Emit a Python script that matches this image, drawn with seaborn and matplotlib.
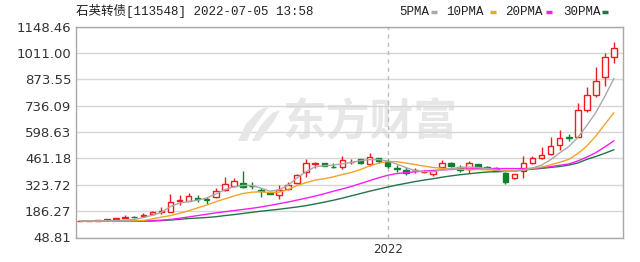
import numpy as np
import pandas as pd
import matplotlib
matplotlib.use("Agg")
import matplotlib.pyplot as plt
import seaborn as sns
from matplotlib.lines import Line2D
from matplotlib.patches import Polygon

# ---------------- data ----------------
title = "石英转债[113548] 2022-07-05 13:58"
watermark = "东方财富"
y_ticks = [48.81, 186.27, 323.72, 461.18, 598.63, 736.09, 873.55, 1011.00, 1148.46]
year_label = "2022"
year_start_index = 34
ma_labels = ["5PMA", "10PMA", "20PMA", "30PMA"]
ma_colors = ["#a9a9a9", "#f0a526", "#f41ef4", "#24744a"]

opens = [133.5, 134.5, 136, 138.5, 146, 153, 158, 163, 170, 184,
         184, 240, 241, 256, 247, 258, 296, 318, 334, 318,
         295, 281, 270, 300, 331, 391, 432, 435, 417, 417,
         441, 456, 431, 461, 443, 411, 400, 398, 389, 378,
         414, 435, 416, 404, 430, 417, 413, 386, 357, 395,
         437, 462, 484, 530, 573, 574, 713, 791, 885, 990]
closes = [134.5, 135.5, 137.5, 143.5, 149, 157, 155, 166, 183, 187,
          235, 244, 265, 252, 243, 292, 326, 343, 310, 315,
          291, 278, 296, 322, 374, 436, 436, 423, 415, 452,
          444, 436, 470, 449, 421, 408, 383, 401, 392, 395,
          435, 421, 400, 435, 416, 412, 395, 340, 379, 435,
          461, 478, 525, 565, 568, 713, 790, 865, 990, 1034]
highs = [135, 136, 139, 145, 153, 164, 161, 176, 186, 206,
         275, 270, 279, 268, 261, 309, 365, 357, 396, 339,
         309, 283, 322, 339, 378, 456, 440, 438, 435, 473,
         456, 458, 487, 464, 456, 426, 414, 409, 400, 397,
         452, 440, 428, 447, 433, 421, 416, 389, 382, 473,
         476, 521, 573, 608, 586, 748, 831, 938, 1011, 1068]
lows = [133, 134, 135, 137, 144, 150, 152, 158, 168, 171,
        181, 218, 238, 236, 223, 254, 292, 310, 306, 304,
        262, 276, 249, 297, 328, 365, 409, 420, 413, 404,
        434, 433, 421, 435, 409, 391, 374, 383, 384, 368,
        404, 418, 390, 386, 413, 405, 393, 330, 352, 358,
        433, 458, 481, 505, 553, 570, 705, 779, 838, 956]

ma5 = [134.7, 134.7, 134.7, 135.8, 137.3, 139, 143, 152, 165, 180,
       210, 228, 236, 243, 255, 275, 298, 313, 320, 320,
       306, 290, 297, 322, 360, 392, 418, 423, 426, 433,
       439.3, 449.7, 454.9, 454.9, 447.1, 431.5, 413.3, 397.7, 391.4, 392.4,
       400.3, 408.1, 413.3, 415.9, 413.3, 408.1, 401.0, 393.0, 394.0, 402.0,
       410.0, 426.0, 454.0, 490.0, 522.0, 569.8, 632.2, 700.2, 785.2, 878.4]
ma10 = [134.7, 134.7, 134.7, 134.7, 134.7, 134.7, 135.8, 137.3, 146, 155,
        163, 175, 188, 203, 218, 235, 250, 265, 278, 285,
        287, 283, 285, 298, 320, 335, 348, 355, 365, 377,
        388, 403, 422, 436, 445, 444, 437, 429, 421, 414,
        409.1, 406.5, 404.4, 402.9, 402.9, 401.3, 399, 398, 398, 400.3,
        409.4, 415.8, 427.9, 440.9, 455.9, 486.0, 525.4, 577.9, 639.0, 698.9]
ma20 = [134.7, 134.7, 134.7, 134.7, 134.7, 134.7, 134.7, 134.7, 136.5, 139,
        143, 149, 156, 163, 170, 177, 183, 189, 195, 201,
        208, 216, 225, 234, 244, 254, 265, 277, 290, 302,
        315, 330, 345, 360, 373, 382, 387, 391, 395, 398,
        401, 403.5, 405, 406.5, 407.5, 408, 408, 408, 408, 408,
        409, 413, 418, 425, 432, 447.5, 467.8, 491, 520.9, 552.9]
ma30 = [133.5, 133.5, 133.5, 133.5, 133.2, 133.0, 133.0, 133.2, 134.7, 137.3,
        139.9, 143.6, 147.7, 150.3, 153.0, 157, 163, 168, 174, 180,
        186, 191, 196, 202, 208, 215, 224, 233, 243, 254,
        266, 278, 290, 301, 312, 322, 331, 340, 348, 355,
        363, 370, 376, 381, 386, 390, 392, 393, 396, 400,
        405, 409, 414, 419, 426, 437, 456, 471, 488, 506]

# ---------------- styling ----------------
sns.set_theme(style="white")
plt.rcParams["font.family"] = ["DejaVu Sans"]

W, H = 640, 262
fig = plt.figure(figsize=(W / 100, H / 100), dpi=100)
ax_l, ax_r, ax_t, ax_b = 76, 623, 26.5, 237.5
ax = fig.add_axes([ax_l / W, 1 - ax_b / H, (ax_r - ax_l) / W, (ax_b - ax_t) / H])

n = len(closes)
idx = np.arange(n)
o = np.array(opens, float)
c = np.array(closes, float)
h = np.array(highs, float)
lo = np.array(lows, float)
up = c >= o

red = "#ee1c1c"
green = "#12812f"

# watermark (logo strokes + text)
def fig_pts(pts):
    return [(x / W, 1 - y / H) for x, y in pts]

wm_col = "#e7e7e7"
for pts in ([(238, 141), (246, 124), (258, 111), (270, 105), (262, 116), (252, 130), (247, 141)],
            [(252, 141), (261, 125), (272, 113), (280, 110), (274, 121), (265, 133), (259, 141)]):
    fig.add_artist(Polygon(fig_pts(pts), closed=True, transform=fig.transFigure,
                           facecolor=wm_col, edgecolor="none", zorder=0.2))
ax.text(0.5375, 0.545, watermark, transform=ax.transAxes, ha="center", va="center",
        fontsize=31.5, fontweight="bold", color=wm_col,
        family=["Noto Sans CJK SC"], zorder=0.2)
ax.patch.set_alpha(0)

# grid and year divider
for yv in y_ticks:
    ax.axhline(yv, color="#d6d6d6", lw=1.0, zorder=0.5)
ax.axvline(year_start_index, color="#bdbdbd", lw=1.0, ls=(0, (3, 3)), zorder=0.6)

# candles: wicks then bodies
wick_colors = [red if u else green for u in up]
ax.vlines(idx, lo, h, colors=wick_colors, lw=1.0, zorder=2)
body_bottom = np.minimum(o, c)
body_h = np.maximum(np.abs(c - o), 0.8)
ax.bar(idx[up], body_h[up], bottom=body_bottom[up], width=0.62,
       facecolor="white", edgecolor=red, linewidth=1.0, zorder=3)
ax.bar(idx[~up], body_h[~up], bottom=body_bottom[~up], width=0.62,
       facecolor=green, edgecolor=green, linewidth=1.0, zorder=3)

# moving averages
ma_df = pd.DataFrame({"i": idx, "5PMA": ma5, "10PMA": ma10, "20PMA": ma20, "30PMA": ma30})
for lab, col, z in zip(ma_labels[::-1], ma_colors[::-1], [4.0, 4.1, 4.2, 4.3]):
    sns.lineplot(data=ma_df, x="i", y=lab, ax=ax, color=col, linewidth=1.0,
                 legend=False, zorder=z)

ax.set_xlim(-0.44, 60.0)
ax.set_ylim(y_ticks[0], y_ticks[-1])
ax.set_yticks(y_ticks)
ax.set_yticklabels([f"{v:.2f}" for v in y_ticks])
ax.set_xticks([year_start_index])
ax.set_xticklabels([year_label])
ax.tick_params(axis="y", length=0, pad=3.5, labelsize=9.5, colors="#333333")
ax.tick_params(axis="x", length=0, pad=4, labelsize=8.5, colors="#333333")
ax.set_xlabel("")
ax.set_ylabel("")
for sp in ax.spines.values():
    sp.set_color("#a8a8a8")
    sp.set_linewidth(1.0)

# title
fig.text(76 / W, 1 - 10.5 / H, title, ha="left", va="center", fontsize=9,
         color="#222222", family=["Liberation Mono", "Noto Sans CJK SC"])

# legend (text followed by a small colour bar)
leg_text_x = [399, 446, 505, 563]
leg_mark_x = [431, 490, 546, 602]
for lab, col, tx, mx in zip(ma_labels, ma_colors, leg_text_x, leg_mark_x):
    fig.text(tx / W, 1 - 12 / H, lab, ha="left", va="center", fontsize=9,
             color="#222222", family=["Liberation Mono"])
    fig.add_artist(Line2D([mx / W, (mx + 6) / W], [1 - 12 / H, 1 - 12 / H],
                          transform=fig.transFigure, color=col, lw=2.5,
                          solid_capstyle="butt"))

fig.savefig("out.png", dpi=100)
